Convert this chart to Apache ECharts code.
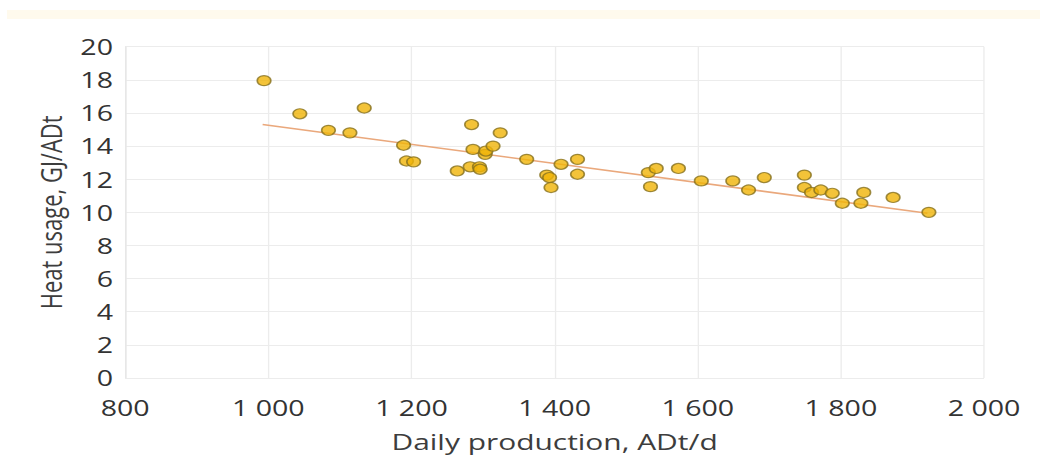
<!DOCTYPE html>
<html>
<head>
<meta charset="utf-8">
<script src="https://cdn.jsdelivr.net/npm/echarts@6/dist/echarts.min.js"></script>
<style>
html,body{margin:0;padding:0;background:#fff;overflow:hidden;width:1043px;height:463px;}
#c{width:767px;height:463px;transform:scaleX(1.36);transform-origin:0 0;}
</style>
</head>
<body>
<div id="c"></div>
<script>
const xValues = [994,1044,1084,1114,1134,1189,1193,1203,1264,1282,1284,1286,1295,1296,1303,1304,1314,1324,1361,1389,1393,1395,1409,1432,1432,1531,1534,1542,1573,1605,1649,1671,1693,1749,1749,1759,1772,1788,1802,1828,1832,1873,1923];
const yValues = [17.95,15.95,14.95,14.8,16.3,14.05,13.1,13.05,12.5,12.75,15.3,13.8,12.75,12.6,13.5,13.7,14.0,14.8,13.2,12.25,12.1,11.5,12.9,13.2,12.3,12.4,11.55,12.65,12.65,11.9,11.9,11.35,12.1,12.25,11.5,11.2,11.35,11.15,10.55,10.55,11.2,10.9,10.0];
const trendX = [992,1921];
const trendY = [15.3,9.95];
const xTicks = [800,1000,1200,1400,1600,1800,2000];
const yTicks = [0,2,4,6,8,10,12,14,16,18,20];

const S = 1.36; // horizontal stretch of the reference picture
const points = xValues.map((x,i)=>[x,yValues[i]]);
const trend = trendX.map((x,i)=>[x,trendY[i]]);
const fmt = v => { const s = String(v); return s.length>3 ? s.slice(0,s.length-3)+' '+s.slice(-3) : s; };

const chart = echarts.init(document.getElementById('c'), null, {renderer:'svg'});
chart.setOption({
  animation:false,
  backgroundColor:'#fff',
  graphic:[{type:'rect',shape:{x:7/S,y:10,width:1033/S,height:9},style:{fill:'#fffaed'},silent:true}],
  grid:{left:125.2/S,right:767-984/S,top:46.7,bottom:85},
  xAxis:{type:'value',min:xTicks[0],max:xTicks[xTicks.length-1],interval:200,
    name:'Daily production, ADt/d',nameLocation:'middle',nameGap:53,
    nameTextStyle:{fontFamily:'Open Sans',fontSize:22,color:'#3d3d3d'},
    axisLine:{show:false},axisTick:{show:false},
    axisLabel:{fontFamily:'Open Sans',fontSize:21,color:'#333',margin:19,formatter:fmt},
    splitLine:{show:true,lineStyle:{color:'#ececec',width:1}}},
  yAxis:{type:'value',min:yTicks[0],max:yTicks[yTicks.length-1],interval:2,
    name:'Heat usage, GJ/ADt',nameLocation:'middle',nameGap:44,
    nameTextStyle:{fontFamily:'Open Sans',fontSize:22,color:'#3d3d3d'},
    axisLine:{show:true,lineStyle:{color:'#e6e6e6'}},axisTick:{show:false},
    axisLabel:{fontFamily:'Open Sans',fontSize:21,color:'#333',margin:9},
    splitLine:{show:true,lineStyle:{color:'#ececec',width:1}}},
  series:[
    {type:'line',data:trend,symbol:'none',lineStyle:{color:'#eaa87c',width:1.6},z:1},
    {type:'scatter',data:points,symbolSize:10,itemStyle:{color:'#f0b408',borderColor:'#86701e',borderWidth:1.2},z:2}
  ]
});
</script>
</body>
</html>
